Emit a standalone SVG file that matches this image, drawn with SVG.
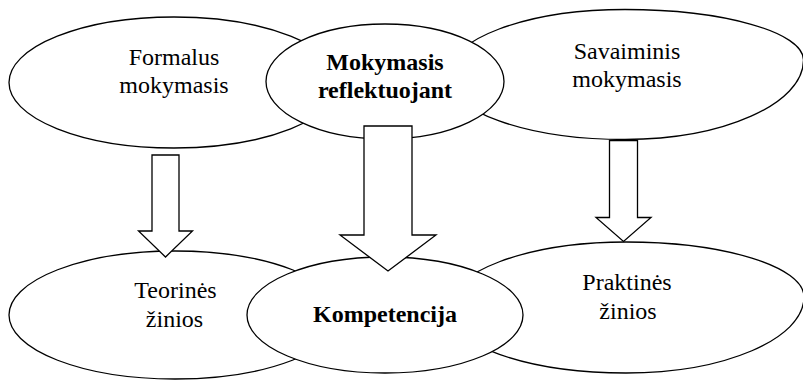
<svg xmlns="http://www.w3.org/2000/svg" width="803" height="380" viewBox="0 0 803 380">
  <style>
    .shape { fill: #ffffff; stroke: #000000; stroke-width: 1.3; }
    .arrow { fill: #ffffff; stroke: #000000; stroke-width: 1.3; stroke-linejoin: miter; }
    text { font-family: "Liberation Serif", "Times New Roman", serif; font-size: 24px; fill: #000000; text-anchor: middle; }
    .bold { font-weight: bold; }
  </style>
  <rect width="803" height="380" fill="#ffffff"/>

  <!-- upper row: learning forms -->
  <g id="formalus">
    <ellipse class="shape" cx="174" cy="82.5" rx="165" ry="65.5"/>
    <text x="174" y="65">Formalus</text>
    <text x="174" y="93">mokymasis</text>
  </g>
  <g id="savaiminis">
    <path class="shape" d="M625,9.5 C723.3,9.5 803.5,32.1 803.5,60 C803.5,103.9 723.3,139.5 625,139.5 C526.7,139.5 447,111.1 447,76 C447,39.3 526.7,9.5 625,9.5 Z"/>
    <text x="627" y="59">Savaiminis</text>
    <text x="627" y="86.5">mokymasis</text>
  </g>
  <g id="reflektuojant">
    <ellipse class="shape" cx="385" cy="81.5" rx="119" ry="57.5"/>
    <text class="bold" x="385" y="70">Mokymasis</text>
    <text class="bold" x="385" y="98">reflektuojant</text>
  </g>

  <!-- lower row: outcomes -->
  <g id="teorines">
    <ellipse class="shape" cx="175" cy="315" rx="166" ry="64"/>
    <text x="175.5" y="298">Teorinės</text>
    <text x="174.5" y="326.5">žinios</text>
  </g>
  <g id="praktines">
    <path class="shape" d="M626,242 C724.3,242 804,266.6 804,297 C804,339 724.3,373 626,373 C527.1,373 447,344.6 447,309.5 C447,272.2 527.1,242 626,242 Z"/>
    <text x="627" y="290">Praktinės</text>
    <text x="628" y="318.5">žinios</text>
  </g>
  <g id="kompetencija">
    <ellipse class="shape" cx="385" cy="315" rx="138" ry="58"/>
    <text class="bold" x="385" y="322">Kompetencija</text>
  </g>

  <!-- block arrows -->
  <g id="connectors">
    <path class="arrow" d="M152,155 H179 V231 H192.5 L165.5,257 L138.5,231 H152 Z"/>
    <path class="arrow" d="M364,126 H412 V235 H436 L388,271 L340,235 H364 Z"/>
    <path class="arrow" d="M609.5,140.5 H637.5 V217.5 H651 L623.5,241.5 L596,217.5 H609.5 Z"/>
  </g>
</svg>
